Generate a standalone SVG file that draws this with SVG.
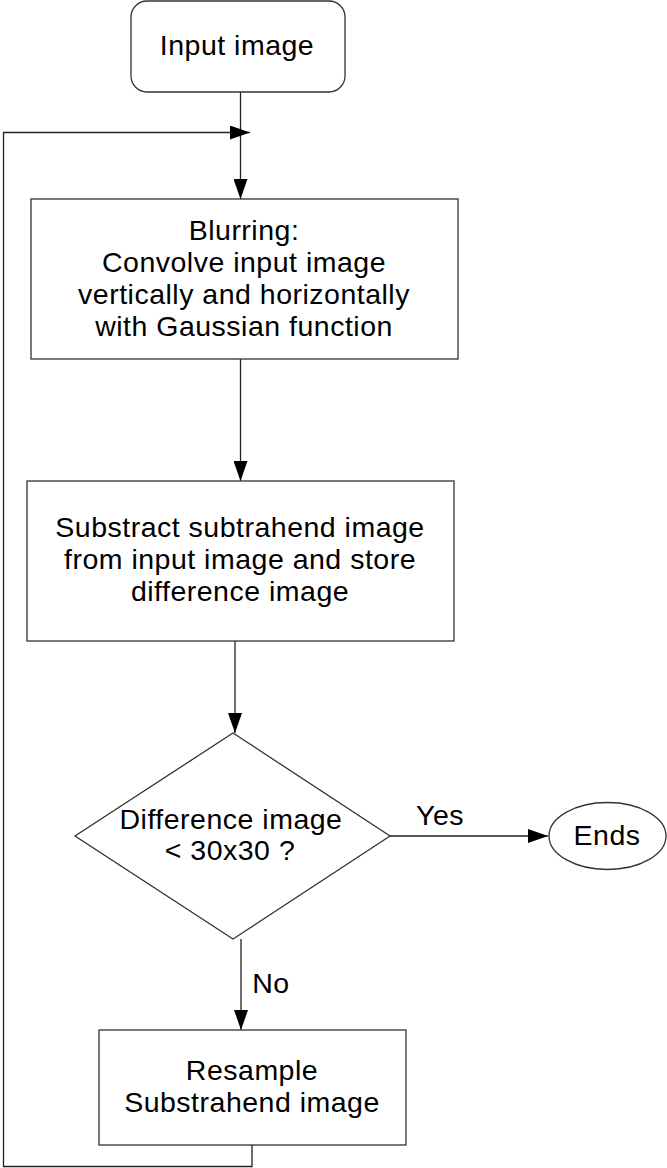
<svg xmlns="http://www.w3.org/2000/svg" width="667" height="1168" viewBox="0 0 667 1168">
  <defs>
    <style>
      .shape { fill: #ffffff; stroke: #333333; stroke-width: 1.3; }
      .edge { fill: none; stroke: #222222; stroke-width: 1.3; }
      .label { font-family: "Liberation Sans", Arial, sans-serif; font-size: 28.5px; fill: #000000; text-anchor: middle; letter-spacing: 0.5px; }
    </style>
    <marker id="arrow" viewBox="0 0 20 14" refX="20" refY="7" markerWidth="20" markerHeight="14" markerUnits="userSpaceOnUse" orient="auto">
      <path d="M0,0 L20,7 L0,14 Z" fill="#000000"/>
    </marker>
  </defs>
  <rect width="667" height="1168" fill="#ffffff"/>

  <!-- connectors -->
  <g id="connectors">
    <path class="edge" d="M240.5,92 L240.5,199" marker-end="url(#arrow)"/>
    <path class="edge" d="M252,1145 L252,1166.5 L3.5,1166.5 L3.5,132.5 L250,132.5" marker-end="url(#arrow)"/>
    <path class="edge" d="M240.5,359 L240.5,481" marker-end="url(#arrow)"/>
    <path class="edge" d="M235,641 L235,733" marker-end="url(#arrow)"/>
    <path class="edge" d="M390,836 L548,836" marker-end="url(#arrow)"/>
    <path class="edge" d="M241,939 L241,1030" marker-end="url(#arrow)"/>
    <text class="label" x="440" y="825">Yes</text>
    <text class="label" x="271" y="993">No</text>
  </g>

  <g id="input-image">
    <rect class="shape" x="131" y="1" width="214" height="91" rx="16" ry="16"/>
    <text class="label" x="237" y="55">Input image</text>
  </g>

  <g id="blurring">
    <rect class="shape" x="31" y="199" width="427" height="160"/>
    <text class="label" x="244" y="240">Blurring:</text>
    <text class="label" x="244" y="272">Convolve input image</text>
    <text class="label" x="244" y="304">vertically and horizontally</text>
    <text class="label" x="244" y="336">with Gaussian function</text>
  </g>

  <g id="subtract">
    <rect class="shape" x="27" y="481" width="427" height="160"/>
    <text class="label" x="240" y="537">Substract subtrahend image</text>
    <text class="label" x="240" y="569">from input image and store</text>
    <text class="label" x="240" y="601">difference image</text>
  </g>

  <g id="decision">
    <polygon class="shape" points="233,733 390,836 233,939 75,836"/>
    <text class="label" x="231" y="829">Difference image</text>
    <text class="label" x="230" y="860">&lt; 30x30 ?</text>
  </g>

  <g id="ends">
    <ellipse class="shape" cx="607.5" cy="836" rx="58.5" ry="33.5"/>
    <text class="label" x="607" y="845">Ends</text>
  </g>

  <g id="resample">
    <rect class="shape" x="99" y="1030" width="307" height="115"/>
    <text class="label" x="252" y="1080">Resample</text>
    <text class="label" x="252" y="1112">Substrahend image</text>
  </g>
</svg>
